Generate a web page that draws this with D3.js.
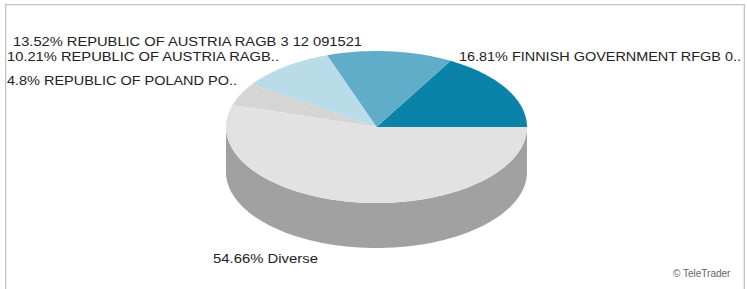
<!DOCTYPE html>
<html><head><meta charset="utf-8">
<script src="https://cdn.jsdelivr.net/npm/d3@7"></script>
<style>html,body{margin:0;padding:0;background:#fff;}svg{display:block;}</style>
</head><body>
<svg id="c" width="747" height="289"></svg>
<script>
const categories = [
  "FINNISH GOVERNMENT RFGB 0..",
  "REPUBLIC OF AUSTRIA RAGB 3 12 091521",
  "REPUBLIC OF AUSTRIA RAGB..",
  "REPUBLIC OF POLAND PO..",
  "Diverse"
];
const values = [16.81, 13.52, 10.21, 4.8, 54.66];
const topColors = ["#0b83a8", "#5fadc8", "#b9dce8", "#d5d5d5", "#e2e2e2"];
const sideColors = ["#075c76", "#43798c", "#8199a2", "#959595", "#a1a1a1"];

// layout constants (label placement and rendered widths)
const labelPos = [[459, 61], [13, 45.5], [7, 60.5], [7, 85], [213, 263]];
const labelWidth = [282, 349, 272, 230, 105];

const svg = d3.select("#c");
const cx = 376.5, cy = 127, rx = 150.5, ry = 76, depth = 45;

// frame
svg.append("rect").attr("x", 5.5).attr("y", 4.5).attr("width", 739).attr("height", 300)
  .attr("fill", "none").attr("stroke", "#c4c4c4");
svg.append("rect").attr("x", 6.5).attr("y", 5.5).attr("width", 737).attr("height", 300)
  .attr("fill", "none").attr("stroke", "#ececec");

const pie = d3.pie().sort(null).value(d => d).startAngle(Math.PI / 2).endAngle(Math.PI / 2 - 2 * Math.PI);
const arcs = pie(values);

const px = a => cx + rx * Math.sin(a);
const py = (a, dz = 0) => cy - ry * Math.cos(a) + dz;

function topPath(a0, a1) {
  const n = Math.max(2, Math.ceil(Math.abs(a1 - a0) / 0.02));
  const p = d3.path();
  p.moveTo(cx, cy);
  for (let i = 0; i <= n; i++) {
    const a = a0 + (a1 - a0) * i / n;
    p.lineTo(px(a), py(a));
  }
  p.closePath();
  return p.toString();
}
function sidePath(a0, a1) {
  const n = Math.max(2, Math.ceil(Math.abs(a1 - a0) / 0.02));
  const p = d3.path();
  for (let i = 0; i <= n; i++) {
    const a = a0 + (a1 - a0) * i / n;
    i === 0 ? p.moveTo(px(a), py(a)) : p.lineTo(px(a), py(a));
  }
  for (let i = n; i >= 0; i--) {
    const a = a0 + (a1 - a0) * i / n;
    p.lineTo(px(a), py(a, depth));
  }
  p.closePath();
  return p.toString();
}

const g = svg.append("g");
arcs.forEach((d, i) => {
  const lo = Math.min(d.startAngle, d.endAngle), hi = Math.max(d.startAngle, d.endAngle);
  for (let k = -2; k <= 1; k++) {
    const f0 = Math.PI / 2 + k * 2 * Math.PI, f1 = 3 * Math.PI / 2 + k * 2 * Math.PI;
    const a0 = Math.max(lo, f0), a1 = Math.min(hi, f1);
    if (a1 > a0) g.append("path").attr("d", sidePath(a0, a1)).attr("fill", sideColors[i]);
  }
});
arcs.forEach((d, i) => {
  g.append("path").attr("d", topPath(d.startAngle, d.endAngle)).attr("fill", topColors[i]);
});

const fmt = v => String(v) + "%";
arcs.forEach((d, i) => {
  svg.append("text").attr("x", labelPos[i][0]).attr("y", labelPos[i][1])
    .attr("font-family", "Liberation Sans, Arial, sans-serif").attr("font-size", 13)
    .attr("textLength", labelWidth[i]).attr("lengthAdjust", "spacingAndGlyphs")
    .attr("fill", "#222").text(fmt(values[i]) + " " + categories[i]);
});

svg.append("text").attr("x", 673).attr("y", 277)
  .attr("font-family", "Liberation Sans, Arial, sans-serif").attr("font-size", 10)
  .attr("fill", "#666").text("\u00A9 TeleTrader");
</script>
</body></html>
